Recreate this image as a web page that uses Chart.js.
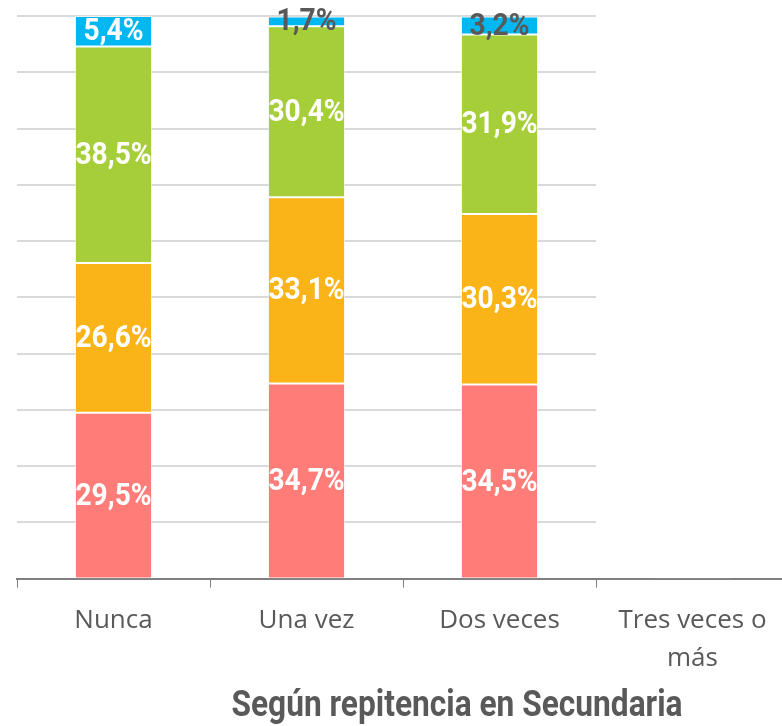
<!DOCTYPE html>
<html>
<head>
<meta charset="utf-8">
<script src="https://cdn.jsdelivr.net/npm/chart.js@4"></script>
<style>
    html, body { margin: 0; padding: 0; background: #fff; overflow: hidden; }
    #wrap { position: relative; width: 790px; height: 726px; }
</style>
</head>
<body>
<div id="wrap"><canvas id="grafico"></canvas></div>
<script>
const categorias = ['Nunca', 'Una vez', 'Dos veces', ['Tres veces o', 'más']];
const serieRoja = [29.5, 34.7, 34.5, 0.1];
const serieNaranja = [26.6, 33.1, 30.3, 0];
const serieVerde = [38.5, 30.4, 31.9, 0];
const serieAzul = [5.4, 1.7, 3.2, 0];
const tituloEje = 'Según repitencia en Secundaria';

const GRIS = '#595959';
// fuente estrecha: Roboto negrita comprimida en horizontal
const ESTRECHO = 0.88;

function textoEstrecho(ctx, txt, x, y) {
    ctx.save();
    ctx.translate(x, y);
    ctx.scale(ESTRECHO, 1);
    ctx.fillText(txt, 0, 0);
    ctx.restore();
}

// líneas de guía solo hasta el tercer grupo, como en el original
const guias = {
    id: 'guias',
    beforeDatasetsDraw(chart) {
        const { ctx, chartArea, scales } = chart;
        const fin = (scales.x.getPixelForValue(2) + scales.x.getPixelForValue(3)) / 2;
        ctx.save();
        ctx.strokeStyle = '#d9d9d9';
        ctx.lineWidth = 2;
        scales.y.ticks.forEach(t => {
            if (t.value === 0) return;
            const y = Math.round(scales.y.getPixelForValue(t.value));
            ctx.beginPath();
            ctx.moveTo(chartArea.left, y);
            ctx.lineTo(fin, y);
            ctx.stroke();
        });
        ctx.restore();
    }
};

const etiquetas = {
    id: 'etiquetas',
    afterDatasetsDraw(chart) {
        const { ctx } = chart;
        ctx.save();
        ctx.font = 'bold 32px Roboto, sans-serif';
        ctx.textAlign = 'center';
        ctx.textBaseline = 'middle';
        chart.data.datasets.forEach((ds, i) => {
            chart.getDatasetMeta(i).data.forEach((bar, j) => {
                const v = ds.data[j];
                if (v < 1) return;
                const { x, y, base } = bar.getProps(['x', 'y', 'base'], true);
                ctx.fillStyle = v < 4 ? GRIS : '#ffffff';
                textoEstrecho(ctx, v.toFixed(1).replace('.', ',') + '%', x, (y + base) / 2 + 1);
            });
        });
        ctx.restore();
    },
    afterDraw(chart) {
        const { ctx } = chart;
        ctx.save();
        ctx.font = 'bold 36px Roboto, sans-serif';
        ctx.fillStyle = GRIS;
        ctx.textAlign = 'center';
        ctx.textBaseline = 'middle';
        textoEstrecho(ctx, tituloEje, 457, 707);
        ctx.restore();
    }
};

const comunes = { borderColor: 'rgba(255,255,255,0.6)', borderWidth: 1, borderSkipped: false, barPercentage: 0.4, categoryPercentage: 1 };

new Chart(document.getElementById('grafico'), {
    type: 'bar',
    data: {
        labels: categorias,
        datasets: [
            { label: 'rojo', data: serieRoja, backgroundColor: '#ff7c78', ...comunes },
            { label: 'naranja', data: serieNaranja, backgroundColor: '#fbb417', ...comunes },
            { label: 'verde', data: serieVerde, backgroundColor: '#a6ce39', ...comunes },
            { label: 'azul', data: serieAzul, backgroundColor: '#00b8f1', ...comunes }
        ]
    },
    options: {
        responsive: true,
        maintainAspectRatio: false,
        animation: false,
        layout: { padding: { left: 17, top: 16, right: 1, bottom: 35 } },
        plugins: { legend: { display: false }, tooltip: { enabled: false } },
        scales: {
            x: {
                stacked: true,
                grid: { drawOnChartArea: false, tickLength: 9, color: '#7f7f7f', offset: true },
                border: { color: '#7f7f7f', width: 2 },
                ticks: {
                    color: GRIS,
                    padding: 14,
                    maxRotation: 0,
                    font: { family: '"Open Sans", sans-serif', size: 26, lineHeight: 1.45 }
                }
            },
            y: {
                stacked: true,
                display: false,
                min: 0,
                max: 100,
                ticks: { stepSize: 10 }
            }
        }
    },
    plugins: [guias, etiquetas]
});
</script>
</body>
</html>
